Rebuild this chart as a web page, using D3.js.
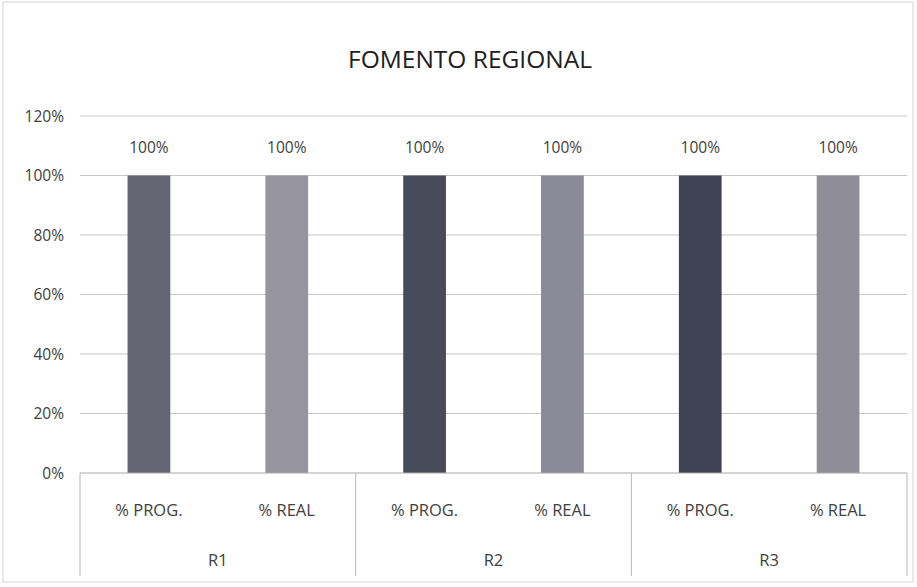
<!DOCTYPE html>
<html><head><meta charset="utf-8">
<script src="https://cdn.jsdelivr.net/npm/d3@7"></script>
<style>body{margin:0;background:#fff}svg{display:block}</style>
</head><body><svg id="c" width="917" height="587"></svg>
<script>
const groups = ["R1","R2","R3"];
const subcats = ["% PROG.","% REAL"];
const values = [[100,100],[100,100],[100,100]];
const yTicks = [0,20,40,60,80,100,120];
const colors = [["#646473","#96949e"],["#484c5a","#8a8b96"],["#404353","#8e8d98"]];

const svg = d3.select("#c");
const font = "'Open Sans',sans-serif";
const m = {l:80, r:907, t:116, b:473};
svg.append("rect").attr("x",3).attr("y",2).attr("width",910).attr("height",580).attr("fill","none").attr("stroke","#d4d4d4");

const items = [];
groups.forEach((g,i)=>subcats.forEach((s,j)=>items.push({g,s,i,j,v:values[i][j]})));
const x = d3.scaleBand().domain(items.map((d,k)=>k)).range([m.l,m.r]).paddingInner(0.69).paddingOuter(0.345);
const xg = d3.scaleBand().domain(groups).range([m.l,m.r]);
const y = d3.scaleLinear().domain([0,120]).range([m.b,m.t]);

svg.append("g").selectAll("line").data(yTicks.filter(t=>t>0)).join("line")
  .attr("x1",m.l).attr("x2",m.r).attr("y1",d=>y(d)).attr("y2",d=>y(d)).attr("stroke","#c6c6c6").attr("stroke-width",1);
svg.append("g").selectAll("text").data(yTicks).join("text")
  .attr("x",64).attr("y",d=>y(d)+5.5).attr("text-anchor","end").attr("font-family",font).attr("font-size",15.5).attr("fill","#404040")
  .text(d=>d+"%");

svg.append("g").selectAll("rect").data(items).join("rect")
  .attr("x",(d,k)=>x(k)).attr("width",x.bandwidth()).attr("y",d=>y(d.v)).attr("height",d=>y(0)-y(d.v))
  .attr("fill",d=>colors[d.i][d.j]);
svg.append("g").selectAll("text").data(items).join("text")
  .attr("x",(d,k)=>x(k)+x.bandwidth()/2).attr("y",d=>y(d.v)-23).attr("text-anchor","middle")
  .attr("font-family",font).attr("font-size",15.5).attr("fill","#404040").text(d=>d.v+"%");

// axis
svg.append("line").attr("x1",m.l).attr("x2",m.r).attr("y1",m.b).attr("y2",m.b).attr("stroke","#a8a8a8");
const seps = groups.map(g=>xg(g)).concat([m.r]);
svg.append("g").selectAll("line").data(seps).join("line")
  .attr("x1",d=>d).attr("x2",d=>d).attr("y1",m.b).attr("y2",576).attr("stroke","#b8b8b8");
svg.append("g").selectAll("text").data(items).join("text")
  .attr("x",(d,k)=>x(k)+x.bandwidth()/2).attr("y",516).attr("text-anchor","middle")
  .attr("font-family",font).attr("font-size",16.5).attr("fill","#404040").text(d=>d.s);
svg.append("g").selectAll("text").data(groups).join("text")
  .attr("x",d=>xg(d)+xg.bandwidth()/2).attr("y",566).attr("text-anchor","middle")
  .attr("font-family",font).attr("font-size",16.5).attr("fill","#404040").text(d=>d);

svg.append("text").attr("x",470).attr("y",68).attr("text-anchor","middle").attr("font-family",font)
  .attr("font-size",24.5).attr("fill","#202020").text("FOMENTO REGIONAL");
</script></body></html>
